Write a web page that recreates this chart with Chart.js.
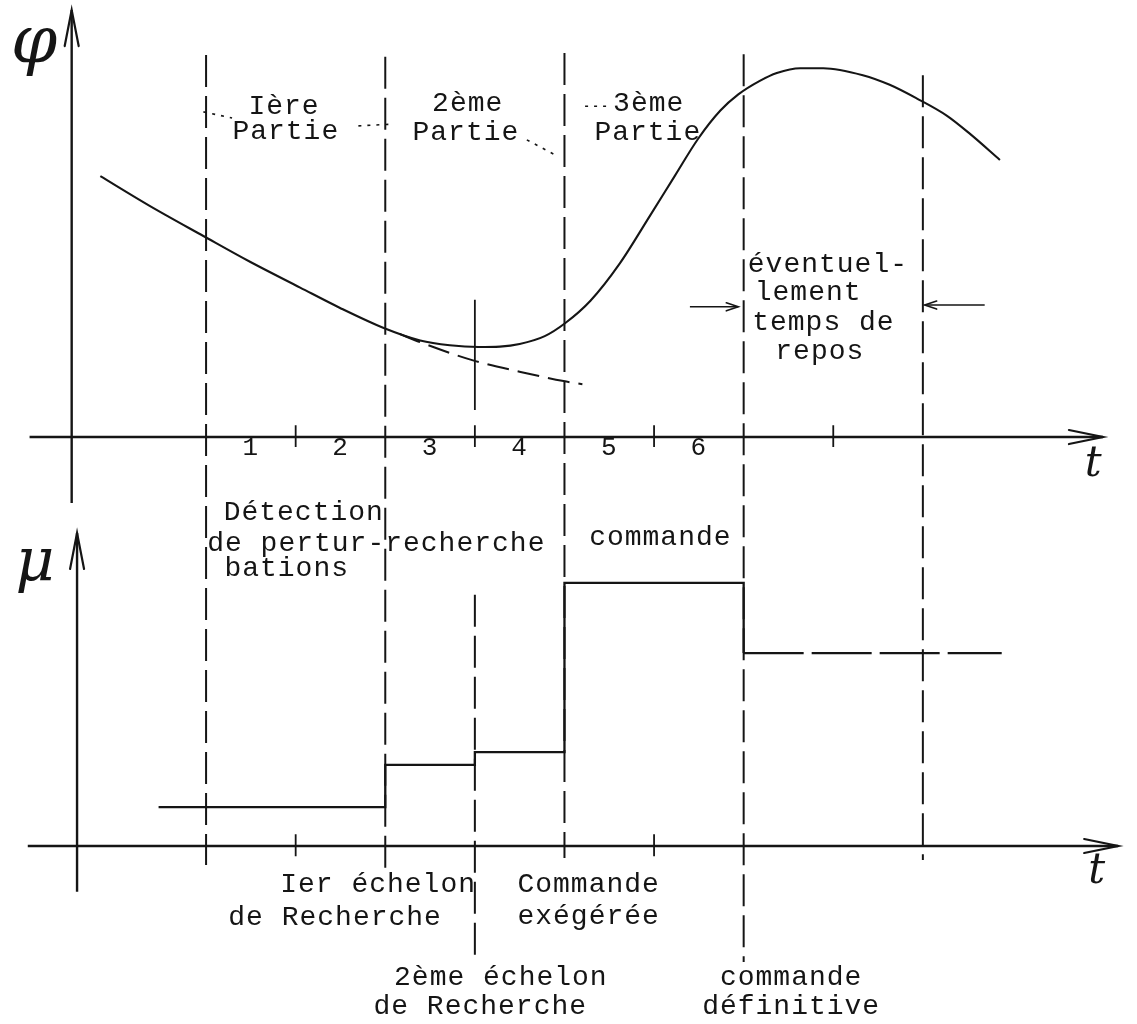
<!DOCTYPE html>
<html>
<head>
<meta charset="utf-8">
<script src="https://cdn.jsdelivr.net/npm/chart.js@4.4.1/dist/chart.umd.min.js"></script>
<style>
html,body{margin:0;padding:0;background:#fff;overflow:hidden}
canvas{display:block}
</style>
</head>
<body>
<canvas id="c" width="1137" height="1024"></canvas>
<script>
// ---------------- DATA ----------------
// phi(t): main curve (t in half-phase units, phi arbitrary units)
const phiCurveT = [-0.18, 0.37, 0.97, 1.49, 2.05, 2.49, 2.99, 3.39, 3.72, 4.04, 4.28, 4.50, 4.78, 5.01, 5.29, 5.62, 5.95, 6.23, 6.49, 6.74, 6.94, 7.18, 7.37, 7.63, 7.89, 8.33, 8.63, 8.93, 9.27, 9.53, 9.86];
const phiCurveV = [5.97, 5.29, 4.60, 4.01, 3.42, 2.96, 2.49, 2.21, 2.10, 2.06, 2.07, 2.13, 2.31, 2.61, 3.12, 3.98, 5.05, 5.97, 6.82, 7.47, 7.84, 8.15, 8.33, 8.44, 8.44, 8.28, 8.06, 7.75, 7.35, 6.93, 6.34];
// phi(t): dashed continuation without correction
const phiTrendT = [3.16, 3.39, 3.97, 4.51, 4.99, 5.20];
const phiTrendV = [2.36, 2.17, 1.76, 1.49, 1.28, 1.21];

// mu(t): stepped command
const muStepT = [0.47, 3, 4, 5, 7];
const muStepV = [0.46, 0.96, 1.11, 3.11, 2.28];
const muRestT = [7, 9.88];
const muRestV = [2.28, 2.28];

// phase boundaries (dashed verticals), extents in phi units
const phaseBoundT = [1, 3, 5, 7, 9];
const boundTopPhi = [8.74, 8.70, 8.79, 8.76, 8.28];
const boundBotPhi = [-9.79, -10.02, -9.63, -12.01, -9.68];
// extra markers at t = 4
const markTopT = 4, markTopPhi = [3.14, 0.62];
const markBotT = 4, markBotMu = [2.97, -1.37];

// axis ticks
const phiTickT = [2, 4, 6, 8];
const muTickT = [2, 6];
const phaseNumT = [1.5, 2.5, 3.5, 4.5, 5.5, 6.5];
const phaseNumLabels = ['1', '2', '3', '4', '5', '6'];

// axes extents
const phiAxisT = -0.50, phiAxisRange = [-1.51, 9.77];
const muAxisT = -0.44, muAxisRange = [-0.54, 3.70];
const tAxisPhiRange = [-0.97, 11.01];
const tAxisMuRange = [-0.99, 11.18];

// rest-time arrows (t from -> to, phi level)
const restArrowFrom = [6.40, 9.69];
const restArrowTo = [6.94, 9.02];
const restArrowPhi = [2.98, 3.02];

// dotted connectors near the part titles
const connT = [[0.97, 1.29], [2.70, 3.08], [4.58, 4.92], [5.23, 5.51]];
const connPhi = [[7.44, 7.30], [7.12, 7.16], [6.80, 6.43], [7.57, 7.57]];

// annotations on the phi panel
const phiTexts = ['Ière', 'Partie', '2ème', 'Partie', '3ème', 'Partie', 'Détection', 'de pertur-recherche', 'bations', 'commande', 'éventuel-', 'lement', 'temps de', 'repos'];
const phiTextT = [1.87, 1.89, 3.92, 3.90, 5.94, 5.93, 2.09, 2.90, 1.90, 6.07, 7.94, 7.72, 7.89, 7.85];
const phiTextV = [7.55, 6.98, 7.64, 6.96, 7.64, 6.96, -1.72, -2.43, -3.00, -2.31, 3.94, 3.30, 2.63, 1.95];
// annotations on the mu panel
const muTexts = ['Ier échelon', 'de Recherche', 'Commande', 'exégérée', '2ème échelon', 'de Recherche', 'commande', 'définitive'];
const muTextT = [2.92, 2.44, 5.27, 5.27, 4.29, 4.06, 7.53, 7.53];
const muTextV = [-0.46, -0.85, -0.46, -0.84, -1.55, -1.90, -1.55, -1.90];

// axis names
const phiName = 'φ', phiNameT = -0.92, phiNameV = 8.97;
const muName = 'μ', muNameT = -0.91, muNameV = 3.32;
const tName = 't', tNamePhiT = 10.90, tNamePhiV = -0.64, tNameMuT = 10.94, tNameMuV = -0.31;

// ---------------- BUILD ----------------
const INK = '#151515';
const pts = (xs, ys) => xs.map((x, i) => ({x: x, y: ys[i]}));
const ds = (data, axis, extra) => Object.assign({
  data: data, yAxisID: axis, borderColor: INK, borderWidth: 2,
  pointRadius: 0, fill: false, tension: 0, clip: false
}, extra || {});

const datasets = [];
// axes
datasets.push(ds(pts([phiAxisT, phiAxisT], phiAxisRange), 'phi', {borderWidth: 2.4}));
datasets.push(ds(pts(tAxisPhiRange, [0, 0]), 'phi', {borderWidth: 2.4}));
datasets.push(ds(pts([muAxisT, muAxisT], muAxisRange), 'mu', {borderWidth: 2.4}));
datasets.push(ds(pts(tAxisMuRange, [0, 0]), 'mu', {borderWidth: 2.4}));
// ticks
phiTickT.forEach(t => datasets.push(ds(pts([t, t], [0.27, -0.23]), 'phi', {borderWidth: 1.8})));
muTickT.forEach(t => datasets.push(ds(pts([t, t], [0.14, -0.12]), 'mu', {borderWidth: 1.8})));
// phase boundaries
phaseBoundT.forEach((t, i) => datasets.push(ds(pts([t, t], [boundTopPhi[i], boundBotPhi[i]]), 'phi', {borderWidth: 2, borderDash: [32, 9]})));
datasets.push(ds(pts([markTopT, markTopT], markTopPhi), 'phi', {borderWidth: 1.8}));
datasets.push(ds(pts([markBotT, markBotT], markBotMu), 'mu', {borderWidth: 2, borderDash: [32, 9]}));
// curves
datasets.push(ds(pts(phiCurveT, phiCurveV), 'phi', {cubicInterpolationMode: 'monotone', borderWidth: 2.1}));
datasets.push(ds(pts(phiTrendT, phiTrendV), 'phi', {cubicInterpolationMode: 'monotone', borderWidth: 2, borderDash: [22, 9]}));
// connectors
connT.forEach((c, i) => datasets.push(ds(pts(c, connPhi[i]), 'phi', {borderWidth: 1.6, borderDash: [3, 6]})));
// rest-time arrows shafts
restArrowFrom.forEach((t, i) => datasets.push(ds(pts([t, restArrowTo[i]], [restArrowPhi[i], restArrowPhi[i]]), 'phi', {borderWidth: 1.6})));
// mu steps (horizontal first, then vertical jump)
datasets.push(ds(pts(muStepT.concat([muRestT[0]]), muStepV.concat([muRestV[0]])), 'mu', {stepped: 'before', borderWidth: 2.3}));
datasets.push(ds(pts(muRestT, muRestV), 'mu', {borderWidth: 2.3, borderDash: [60, 8]}));

function arrowHead(ctx, x, y, dx, dy, len, half) {
  const n = Math.hypot(dx, dy); const ux = dx / n, uy = dy / n;
  const bx = x - ux * len, by = y - uy * len;
  ctx.beginPath();
  ctx.moveTo(bx - uy * half, by + ux * half); ctx.lineTo(x, y);
  ctx.lineTo(bx + uy * half, by - ux * half);
  ctx.stroke();
}

const decor = {
  id: 'decor',
  afterDatasetsDraw(chart) {
    const ctx = chart.ctx, X = chart.scales.x, P = chart.scales.phi, M = chart.scales.mu;
    ctx.save();
    ctx.strokeStyle = INK; ctx.fillStyle = INK; ctx.lineWidth = 2.2; ctx.lineCap = 'round';
    // axis arrows
    arrowHead(ctx, X.getPixelForValue(phiAxisT), P.getPixelForValue(phiAxisRange[1]), 0, -1, 36, 7);
    arrowHead(ctx, X.getPixelForValue(muAxisT), M.getPixelForValue(muAxisRange[1]), 0, -1, 36, 7);
    arrowHead(ctx, X.getPixelForValue(tAxisPhiRange[1]), P.getPixelForValue(0), 1, 0, 34, 7);
    arrowHead(ctx, X.getPixelForValue(tAxisMuRange[1]), M.getPixelForValue(0), 1, 0, 34, 7);
    // rest arrows
    ctx.lineWidth = 1.6;
    restArrowTo.forEach((t, i) => {
      const dir = Math.sign(t - restArrowFrom[i]);
      arrowHead(ctx, X.getPixelForValue(t), P.getPixelForValue(restArrowPhi[i]), dir, 0, 12, 4);
    });
    // texts
    ctx.textAlign = 'center'; ctx.textBaseline = 'middle';
    ctx.font = '28px "Liberation Mono"';
    try { ctx.letterSpacing = '1px'; } catch (e) {}
    phiTexts.forEach((s, i) => ctx.fillText(s, X.getPixelForValue(phiTextT[i]), P.getPixelForValue(phiTextV[i])));
    muTexts.forEach((s, i) => ctx.fillText(s, X.getPixelForValue(muTextT[i]), M.getPixelForValue(muTextV[i])));
    ctx.font = '26px "Liberation Mono"';
    phaseNumLabels.forEach((s, i) => ctx.fillText(s, X.getPixelForValue(phaseNumT[i]), P.getPixelForValue(-0.25)));
    try { ctx.letterSpacing = '0px'; } catch (e) {}
    ctx.font = 'italic 66px "DejaVu Serif"';
    ctx.fillText(phiName, X.getPixelForValue(phiNameT), P.getPixelForValue(phiNameV));
    ctx.font = 'italic 60px "DejaVu Serif"';
    ctx.fillText(muName, X.getPixelForValue(muNameT), M.getPixelForValue(muNameV));
    ctx.font = 'italic 42px "DejaVu Serif"';
    ctx.fillText(tName, X.getPixelForValue(tNamePhiT), P.getPixelForValue(tNamePhiV));
    ctx.fillText(tName, X.getPixelForValue(tNameMuT), M.getPixelForValue(tNameMuV));
    ctx.restore();
  }
};

new Chart(document.getElementById('c'), {
  type: 'line',
  data: {datasets: datasets},
  options: {
    responsive: false, animation: false, devicePixelRatio: 1,
    layout: {padding: 0},
    plugins: {legend: {display: false}, tooltip: {enabled: false}, title: {display: false}},
    events: [],
    scales: {
      x: {type: 'linear', min: -1.300, max: 11.390, display: false},
      phi: {type: 'linear', position: 'left', min: -13.43, max: 10, display: false},
      mu: {type: 'linear', position: 'left', min: -2.104, max: 10, display: false}
    }
  },
  plugins: [decor]
});
</script>
</body>
</html>
